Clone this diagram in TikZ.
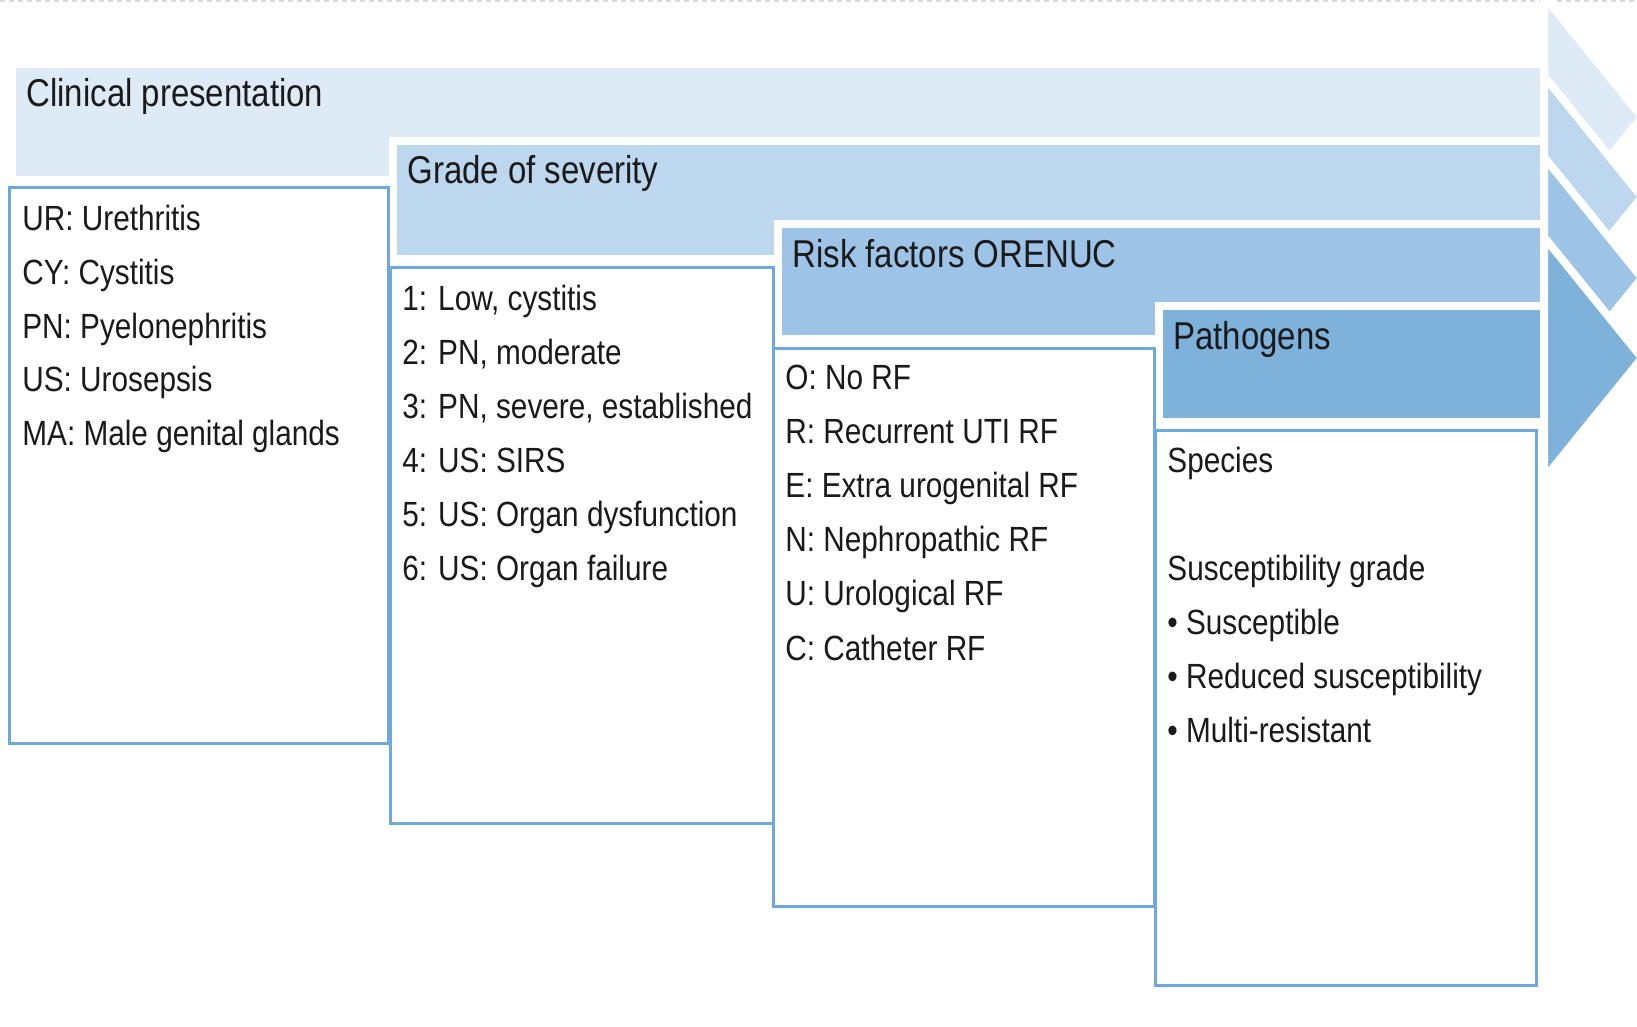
\documentclass[tikz,border=0pt]{standalone}
\usepackage{fontspec}
\setmainfont{Liberation Sans}[FakeStretch=0.85]
\usepackage{tikz}
\usetikzlibrary{calc}

\definecolor{bandA}{HTML}{DEEBF7}
\definecolor{bandB}{HTML}{BDD7EE}
\definecolor{bandC}{HTML}{9DC3E6}
\definecolor{bandD}{HTML}{7FB2DA}
\definecolor{boxline}{HTML}{6FA8DC}
\definecolor{inktext}{HTML}{1A1A1A}

\begin{document}
\begin{tikzpicture}[x=0.5pt, y=-0.5pt,
    band/.style={line width=4pt, draw=white},
    listbox/.style={line width=1.5pt, draw=boxline},
    title/.style={anchor=base west, inner sep=0pt, text=inktext, font=\fontsize{19.4}{23}\selectfont},
    item/.style={anchor=base west, inner sep=0pt, text=inktext, font=\fontsize{17.5}{21}\selectfont}]

  \useasboundingbox (0, 0) rectangle (1637, 1027);
  \fill[white] (0, 0) rectangle (1637, 1027);
  \draw[black!15, line width=1.5pt, dash pattern=on 2.5pt off 2pt] (0, 1) -- (1637, 1);

  \foreach \xa/\ya/\yb/\ym/\bandcol in {16/68/176/117/bandA, 397/145/255/197/bandB,
                                        782/228/335/278/bandC, 1163/310/418/358/bandD} {
    \filldraw[band, fill=\bandcol] (\xa-4, \ya-4) rectangle (1544, \yb+4);
    \filldraw[band, fill=\bandcol] (1544, \ym-121) -- (1642, \ym) -- (1544, \ym+121) -- cycle;
  }

  \node[title] (clinical) at (26, 107) {Clinical presentation};
  \node[title] (grade) at (407, 184) {Grade of severity};
  \node[title] (risk) at (792, 267) {Risk factors ORENUC};
  \node[title] (pathogens) at (1173, 349) {Pathogens};

  \draw[listbox] (9, 188) rectangle (388, 743);
  \draw[listbox] (390, 267) rectangle (773, 823);
  \draw[listbox] (773, 348) rectangle (1154, 906);
  \draw[listbox] (1155, 430) rectangle (1536, 985);

  \foreach \txt [count=\i] in {UR: Urethritis, CY: Cystitis, PN: Pyelonephritis,
                               US: Urosepsis, MA: Male genital glands} {
    \node[item] (pres-\i) at (22, 231+53.5*\i-53.5) {\txt};
  }

  \foreach \txt [count=\i] in {{1: Low, cystitis}, {2: PN, moderate}, {3: PN, severe, established},
                               4: US: SIRS, 5: US: Organ dysfunction, 6: US: Organ failure} {
    \node[item] (sev-\i) at (402, 310+54*\i-54) {\txt};
  }

  \foreach \txt [count=\i] in {O: No RF, R: Recurrent UTI RF, E: Extra urogenital RF,
                               N: Nephropathic RF, U: Urological RF, C: Catheter RF} {
    \node[item] (rf-\i) at (785, 389+54.2*\i-54.2) {\txt};
  }

  \foreach \i/\txt in {1/Species, 3/Susceptibility grade, 4/\textbullet\ Susceptible,
                       5/\textbullet\ Reduced susceptibility, 6/\textbullet\ Multi-resistant} {
    \node[item] (path-\i) at (1167, 472+54*\i-54) {\txt};
  }
\end{tikzpicture}
\end{document}
